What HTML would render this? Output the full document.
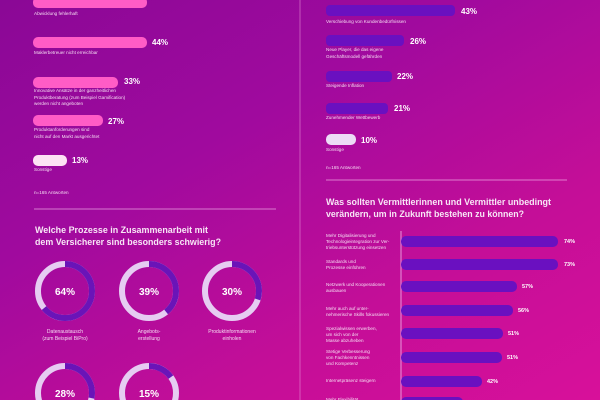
<!DOCTYPE html>
<html><head><meta charset="utf-8"><style>
html,body{margin:0;padding:0;width:600px;height:400px;overflow:hidden}
body{background:linear-gradient(150deg,#8a0896 0%,#a00a9e 35%,#c40e98 70%,#d8109a 100%)}
svg{display:block}
text{font-family:"Liberation Sans",sans-serif;fill:#fff}
.l{font-size:4.6px;fill:#f5dcf2}
.p{font-size:8px;font-weight:bold}
.ps{font-size:5.5px;font-weight:bold}
.t{font-size:9.3px;font-weight:bold;fill:#f8e6f6}
.d{font-size:10px;font-weight:bold;text-anchor:middle}
.dl{font-size:5px;text-anchor:middle;fill:#f5dcf2}
</style></head><body>
<svg width="600" height="400" viewBox="0 0 600 400">
<line x1="300" y1="0" x2="300" y2="400" stroke="#e890d8" stroke-width="0.8" opacity="0.7"/>
<g fill="#ff5cc6">
<rect x="33" y="-3" width="114" height="11" rx="5"/>
<rect x="33" y="37" width="114" height="11" rx="5"/>
<rect x="33" y="77" width="85" height="11" rx="5"/>
<rect x="33" y="115" width="70" height="11" rx="5"/>
</g>
<rect x="33" y="155" width="34" height="11" rx="5" fill="#fde2f4"/>
<text class="l" x="34" y="15">Abwicklung fehlerhaft</text>
<text class="p" x="152" y="45">44%</text>
<text class="l" x="34" y="54">Maklerbetreuer nicht erreichbar</text>
<text class="p" x="124" y="84">33%</text>
<text class="l" x="34" y="92">Innovative Ansätze in der ganzheitlichen</text>
<text class="l" x="34" y="99">Produktberatung (zum Beispiel Gamification)</text>
<text class="l" x="34" y="105">werden nicht angeboten</text>
<text class="p" x="108" y="124">27%</text>
<text class="l" x="34" y="131">Produktanforderungen sind</text>
<text class="l" x="34" y="138">nicht auf den Markt ausgerichtet</text>
<text class="p" x="72" y="163">13%</text>
<text class="l" x="34" y="171">Sonstige</text>
<text class="l" x="34" y="194">n=165 Antworten</text>
<line x1="34" y1="209" x2="276" y2="209" stroke="#e8a0e0" stroke-width="0.8"/>
<text class="t" x="35" y="233" textLength="173" lengthAdjust="spacingAndGlyphs">Welche Prozesse in Zusammenarbeit mit</text>
<text class="t" x="35" y="245" textLength="186" lengthAdjust="spacingAndGlyphs">dem Versicherer sind besonders schwierig?</text>
<g fill="none" stroke-width="6">
<circle cx="65" cy="291" r="27" stroke="#e6ccf2"/>
<circle cx="65" cy="291" r="27" stroke="#6a14b8" stroke-dasharray="108.6 200" transform="rotate(-90 65 291)"/>
<circle cx="149" cy="291" r="27" stroke="#e6ccf2"/>
<circle cx="149" cy="291" r="27" stroke="#6a14b8" stroke-dasharray="66.2 200" transform="rotate(-90 149 291)"/>
<circle cx="232" cy="291" r="27" stroke="#e6ccf2"/>
<circle cx="232" cy="291" r="27" stroke="#6a14b8" stroke-dasharray="50.9 200" transform="rotate(-90 232 291)"/>
<circle cx="65" cy="393" r="27" stroke="#e6ccf2"/>
<circle cx="65" cy="393" r="27" stroke="#6a14b8" stroke-dasharray="47.5 200" transform="rotate(-90 65 393)"/>
<circle cx="149" cy="393" r="27" stroke="#e6ccf2"/>
<circle cx="149" cy="393" r="27" stroke="#6a14b8" stroke-dasharray="25.4 200" transform="rotate(-90 149 393)"/>
</g>
<text class="d" x="65" y="295">64%</text>
<text class="d" x="149" y="295">39%</text>
<text class="d" x="232" y="295">30%</text>
<text class="d" x="65" y="397">28%</text>
<text class="d" x="149" y="397">15%</text>
<text class="dl" x="65" y="333">Datenaustausch</text>
<text class="dl" x="65" y="340">(zum Beispiel BiPro)</text>
<text class="dl" x="149" y="333">Angebots-</text>
<text class="dl" x="149" y="340">erstellung</text>
<text class="dl" x="232" y="333">Produktinformationen</text>
<text class="dl" x="232" y="340">einholen</text>
<g fill="#6a10c0">
<rect x="326" y="5" width="129" height="11" rx="4"/>
<rect x="326" y="35" width="78" height="11" rx="4"/>
<rect x="326" y="71" width="66" height="11" rx="4"/>
<rect x="326" y="103" width="62" height="11" rx="4"/>
</g>
<rect x="326" y="134" width="30" height="11" rx="5" fill="#ecdcf6"/>
<text class="p" x="461" y="14">43%</text>
<text class="l" x="326" y="23">Verschiebung von Kundenbedürfnissen</text>
<text class="p" x="410" y="44">26%</text>
<text class="l" x="326" y="51">Neue Player, die das eigene</text>
<text class="l" x="326" y="58">Geschäftsmodell gefährden</text>
<text class="p" x="397" y="79">22%</text>
<text class="l" x="326" y="87">Steigende Inflation</text>
<text class="p" x="394" y="111">21%</text>
<text class="l" x="326" y="119">Zunehmender Wettbewerb</text>
<text class="p" x="361" y="143">10%</text>
<text class="l" x="326" y="151">Sonstige</text>
<text class="l" x="326" y="169">n=165 Antworten</text>
<line x1="326" y1="180" x2="567" y2="180" stroke="#eca0e0" stroke-width="0.8"/>
<text class="t" x="326" y="205" textLength="225" lengthAdjust="spacingAndGlyphs">Was sollten Vermittlerinnen und Vermittler unbedingt</text>
<text class="t" x="326" y="217" textLength="198" lengthAdjust="spacingAndGlyphs">verändern, um in Zukunft bestehen zu können?</text>
<line x1="401" y1="231" x2="401" y2="400" stroke="#f0b8ec" stroke-width="0.8"/>
<g fill="#6a10c0">
<rect x="401" y="236" width="157" height="11" rx="5"/>
<rect x="401" y="259" width="157" height="11" rx="5"/>
<rect x="401" y="281" width="116" height="11" rx="5"/>
<rect x="401" y="305" width="112" height="11" rx="5"/>
<rect x="401" y="328" width="102" height="11" rx="5"/>
<rect x="401" y="352" width="101" height="11" rx="5"/>
<rect x="401" y="376" width="81" height="11" rx="5"/>
<rect x="401" y="397" width="62" height="11" rx="5"/>
</g>
<text class="ps" x="564" y="243">74%</text>
<text class="ps" x="564" y="266">73%</text>
<text class="ps" x="522" y="288">57%</text>
<text class="ps" x="518" y="312">56%</text>
<text class="ps" x="508" y="335">51%</text>
<text class="ps" x="507" y="359">51%</text>
<text class="ps" x="487" y="383">42%</text>
<text class="l" x="326" y="237">Mehr Digitalisierung und</text>
<text class="l" x="326" y="243">Technologieintegration zur Ver-</text>
<text class="l" x="326" y="249">triebsunterstützung einsetzen</text>
<text class="l" x="326" y="263">Standards und</text>
<text class="l" x="326" y="269">Prozesse einführen</text>
<text class="l" x="326" y="286">Netzwerk und Kooperationen</text>
<text class="l" x="326" y="292">ausbauen</text>
<text class="l" x="326" y="310">Mehr auch auf unter-</text>
<text class="l" x="326" y="316">nehmerische Skills fokussieren</text>
<text class="l" x="326" y="330">Spezialwissen erwerben,</text>
<text class="l" x="326" y="336">um sich von der</text>
<text class="l" x="326" y="342">Masse abzuheben</text>
<text class="l" x="326" y="353">Stetige Verbesserung</text>
<text class="l" x="326" y="359">von Fachkenntnissen</text>
<text class="l" x="326" y="365">und Kompetenz</text>
<text class="l" x="326" y="382">Internetpräsenz steigern</text>
<text class="l" x="326" y="401">Mehr Flexibilität</text>
</svg>
</body></html>
